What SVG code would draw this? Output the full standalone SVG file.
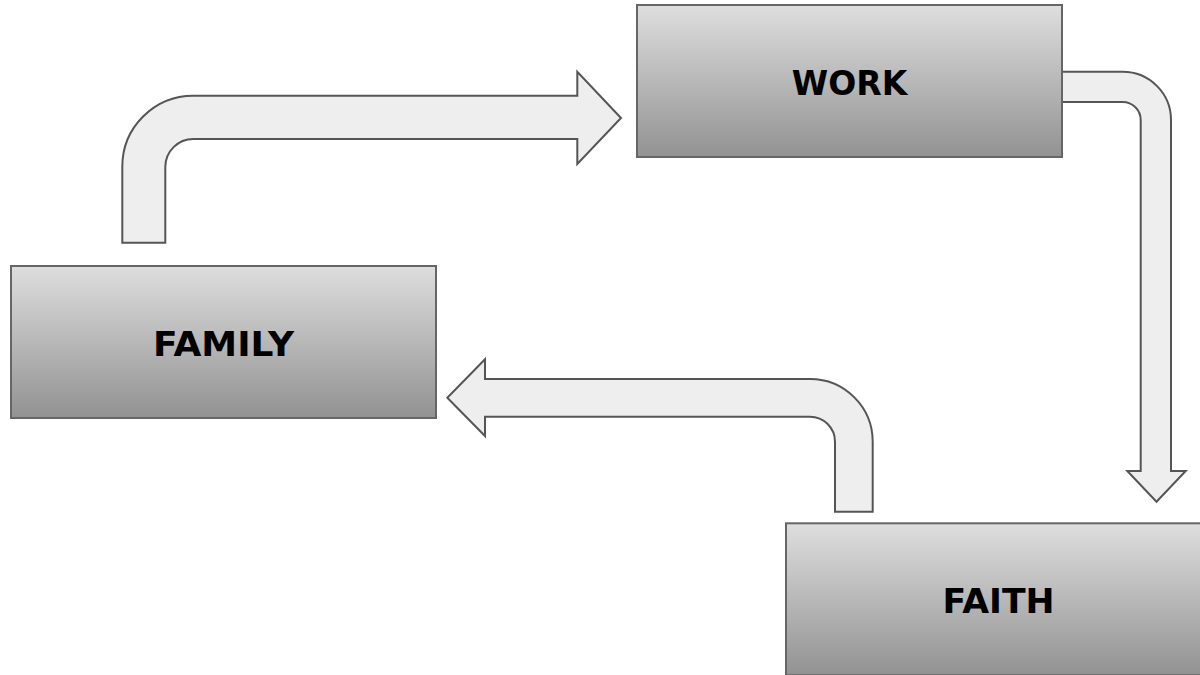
<svg xmlns="http://www.w3.org/2000/svg" width="1200" height="675" viewBox="0 0 1200 675">
<defs>
<linearGradient id="g" x1="0" y1="0" x2="0" y2="1">
<stop offset="0" stop-color="#dedede"/>
<stop offset="1" stop-color="#929292"/>
</linearGradient>
<style>
.arrow{fill:#eeeeee;stroke:#555555;stroke-width:2;stroke-linejoin:miter}
.box{fill:url(#g);stroke:#666666;stroke-width:2}
.lbl{font-family:"DejaVu Sans","Liberation Sans",sans-serif;font-weight:bold;font-size:33px;fill:#000;text-anchor:middle}
</style>
</defs>
<rect width="1200" height="675" fill="#ffffff"/>
<g id="connectors">
<path class="arrow" d="M122.3,242.7 L122.3,166.7 A71,71 0 0 1 193.3,95.7 L577.3,95.7 L577.3,71.7 L621,118 L577.3,164 L577.3,139 L193.3,139 A28,28 0 0 0 165.3,166.7 L165.3,242.7 Z"/>
<path class="arrow" d="M1062,71.7 L1122.7,71.7 A48.3,48.3 0 0 1 1171,120 L1171,471 L1185.7,471 L1156.5,501.7 L1127.3,471 L1140.7,471 L1140.7,120 A18,18 0 0 0 1122.7,102 L1062,102 Z"/>
<path class="arrow" d="M872.7,511.7 L872.7,441.7 A62.7,62.7 0 0 0 810,379 L485,379 L485,359.3 L447.3,397.7 L485,436 L485,416.7 L810,416.7 A25,25 0 0 1 835,441.7 L835,511.7 Z"/>
</g>
<g id="work">
<rect class="box" x="637" y="5" width="425" height="152"/>
<text class="lbl" x="849.5" y="95">WORK</text>
</g>
<g id="family">
<rect class="box" x="11" y="266" width="425" height="152"/>
<text class="lbl" x="223.5" y="356" textLength="141" lengthAdjust="spacingAndGlyphs">FAMILY</text>
</g>
<g id="faith">
<rect class="box" x="786" y="523.3" width="425" height="152"/>
<text class="lbl" x="998.5" y="613" textLength="112" lengthAdjust="spacingAndGlyphs">FAITH</text>
</g>
</svg>
